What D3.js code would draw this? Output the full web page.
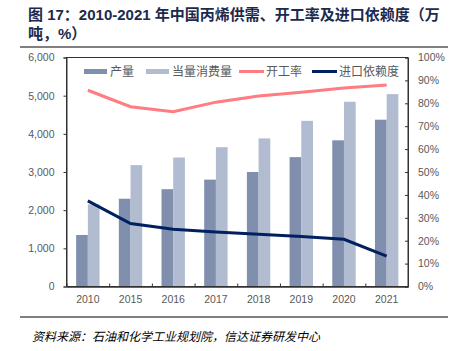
<!DOCTYPE html>
<html><head><meta charset="utf-8">
<script src="https://cdn.jsdelivr.net/npm/d3@7"></script>
<style>body{margin:0;background:#fff}</style>
</head><body>
<svg id="c" width="458" height="351"></svg>
<script>
const years = ["2010","2015","2016","2017","2018","2019","2020","2021"];
const production = [1350, 2300, 2550, 2800, 3000, 3390, 3830, 4370];
const consumption = [2150, 3180, 3380, 3650, 3880, 4340, 4840, 5040];
const utilization = [85.7, 78.5, 76.3, 80.5, 83.2, 84.8, 86.7, 88.0];
const importDep = [37.4, 27.5, 25.0, 23.8, 22.8, 21.8, 20.6, 13.3];
const leftTicks = [0,1000,2000,3000,4000,5000,6000];
const rightTicks = [0,10,20,30,40,50,60,70,80,90,100];
const legendNames = ["产量","当量消费量","开工率","进口依赖度"];

const svg = d3.select("#c");
const L = 66.5, R = 408, T = 57.5, B = 286.5;
const cCol = {dark:"#7f8fad", light:"#b1bcd0", pink:"#ff7c80", navy:"#002060", txt:"#595959"};
const font = "'Liberation Sans', Arial, sans-serif";
const cjk = "'Noto Sans CJK SC', sans-serif";

// title
const title = svg.append("text").attr("font-family", "'Liberation Sans', 'Noto Sans CJK SC', sans-serif").attr("font-weight","bold")
  .attr("font-size", 15).attr("fill", "#1c2a4d");
title.append("tspan").attr("x", 28).attr("y", 20).text("图 17：2010-2021 年中国丙烯供需、开工率及进口依赖度（万");
title.append("tspan").attr("x", 28).attr("y", 39).text("吨，%）");
svg.append("line").attr("x1",20).attr("x2",448).attr("y1",47).attr("y2",47)
  .attr("stroke","#808080").attr("stroke-width",2);

const x = d3.scaleBand().domain(years).range([L, R]);
const y = d3.scaleLinear().domain([0, 6000]).range([B, T]);
const yr = d3.scaleLinear().domain([0, 100]).range([B, T]);
const bw = 11.7;

// bars
const g = svg.append("g");
g.selectAll(".p").data(years).join("rect")
  .attr("x", d => x(d) + x.bandwidth()/2 - bw)
  .attr("y", (d,i) => y(production[i]))
  .attr("width", bw).attr("height", (d,i) => B - y(production[i]))
  .attr("fill", cCol.dark);
g.selectAll(".c").data(years).join("rect")
  .attr("x", d => x(d) + x.bandwidth()/2)
  .attr("y", (d,i) => y(consumption[i]))
  .attr("width", bw).attr("height", (d,i) => B - y(consumption[i]))
  .attr("fill", cCol.light);

// lines
const line = d3.line().x((d,i) => x(years[i]) + x.bandwidth()/2).y(d => yr(d));
svg.append("path").datum(utilization).attr("d", line).attr("fill","none")
  .attr("stroke", cCol.pink).attr("stroke-width", 3);
svg.append("path").datum(importDep).attr("d", line).attr("fill","none")
  .attr("stroke", cCol.navy).attr("stroke-width", 3);

// frame
svg.append("rect").attr("x", L).attr("y", T).attr("width", R-L).attr("height", B-T)
  .attr("fill","none").attr("stroke","#333").attr("stroke-width",1);

// left axis
svg.append("g").attr("transform", `translate(${L},0)`)
  .call(d3.axisLeft(y).tickValues(leftTicks).tickSize(3).tickPadding(9).tickFormat(d3.format(",")));
// right axis
svg.append("g").attr("transform", `translate(${R},0)`)
  .call(d3.axisRight(yr).tickValues(rightTicks).tickSize(-3).tickPadding(10).tickFormat(d => d + "%"));
// bottom axis: ticks between categories
const xb = d3.scaleLinear().domain([0, years.length]).range([L, R]);
svg.append("g").attr("transform", `translate(0,${B})`)
  .call(d3.axisBottom(xb).tickValues(d3.range(1, years.length)).tickSize(-3).tickFormat(""));
svg.append("g").attr("transform", `translate(0,${B})`)
  .call(d3.axisBottom(x).tickSize(0).tickPadding(9));

svg.selectAll(".domain").attr("stroke","#333");
svg.selectAll(".tick line").attr("stroke","#333");
svg.selectAll(".tick text").attr("fill", cCol.txt).attr("font-family", font).attr("font-size", 10.5);

// legend
const leg = [
  {n: legendNames[0], t:"bar", c: cCol.dark, x: 84, tx: 110},
  {n: legendNames[1], t:"bar", c: cCol.light, x: 146, tx: 172},
  {n: legendNames[2], t:"line", c: cCol.pink, x: 239, tx: 266},
  {n: legendNames[3], t:"line", c: cCol.navy, x: 312, tx: 339}
];
const lg = svg.append("g");
leg.forEach(d => {
  if (d.t === "bar") lg.append("rect").attr("x", d.x).attr("y", 69).attr("width", 23).attr("height", 5).attr("fill", d.c);
  else lg.append("line").attr("x1", d.x).attr("x2", d.x+25).attr("y1", 71.5).attr("y2", 71.5).attr("stroke", d.c).attr("stroke-width", 3);
  lg.append("text").attr("x", d.tx).attr("y", 76).attr("font-family", cjk).attr("font-size", 12)
    .attr("fill", cCol.txt).text(d.n);
});

// source
svg.append("line").attr("x1",20).attr("x2",448).attr("y1",317).attr("y2",317)
  .attr("stroke","#000").attr("stroke-width",1);
svg.append("text").attr("x", 32).attr("y", 341).attr("font-family", cjk).attr("font-style","italic")
  .attr("font-size", 12).attr("fill","#000").text("资料来源：石油和化学工业规划院，信达证券研发中心");
</script>
</body></html>
